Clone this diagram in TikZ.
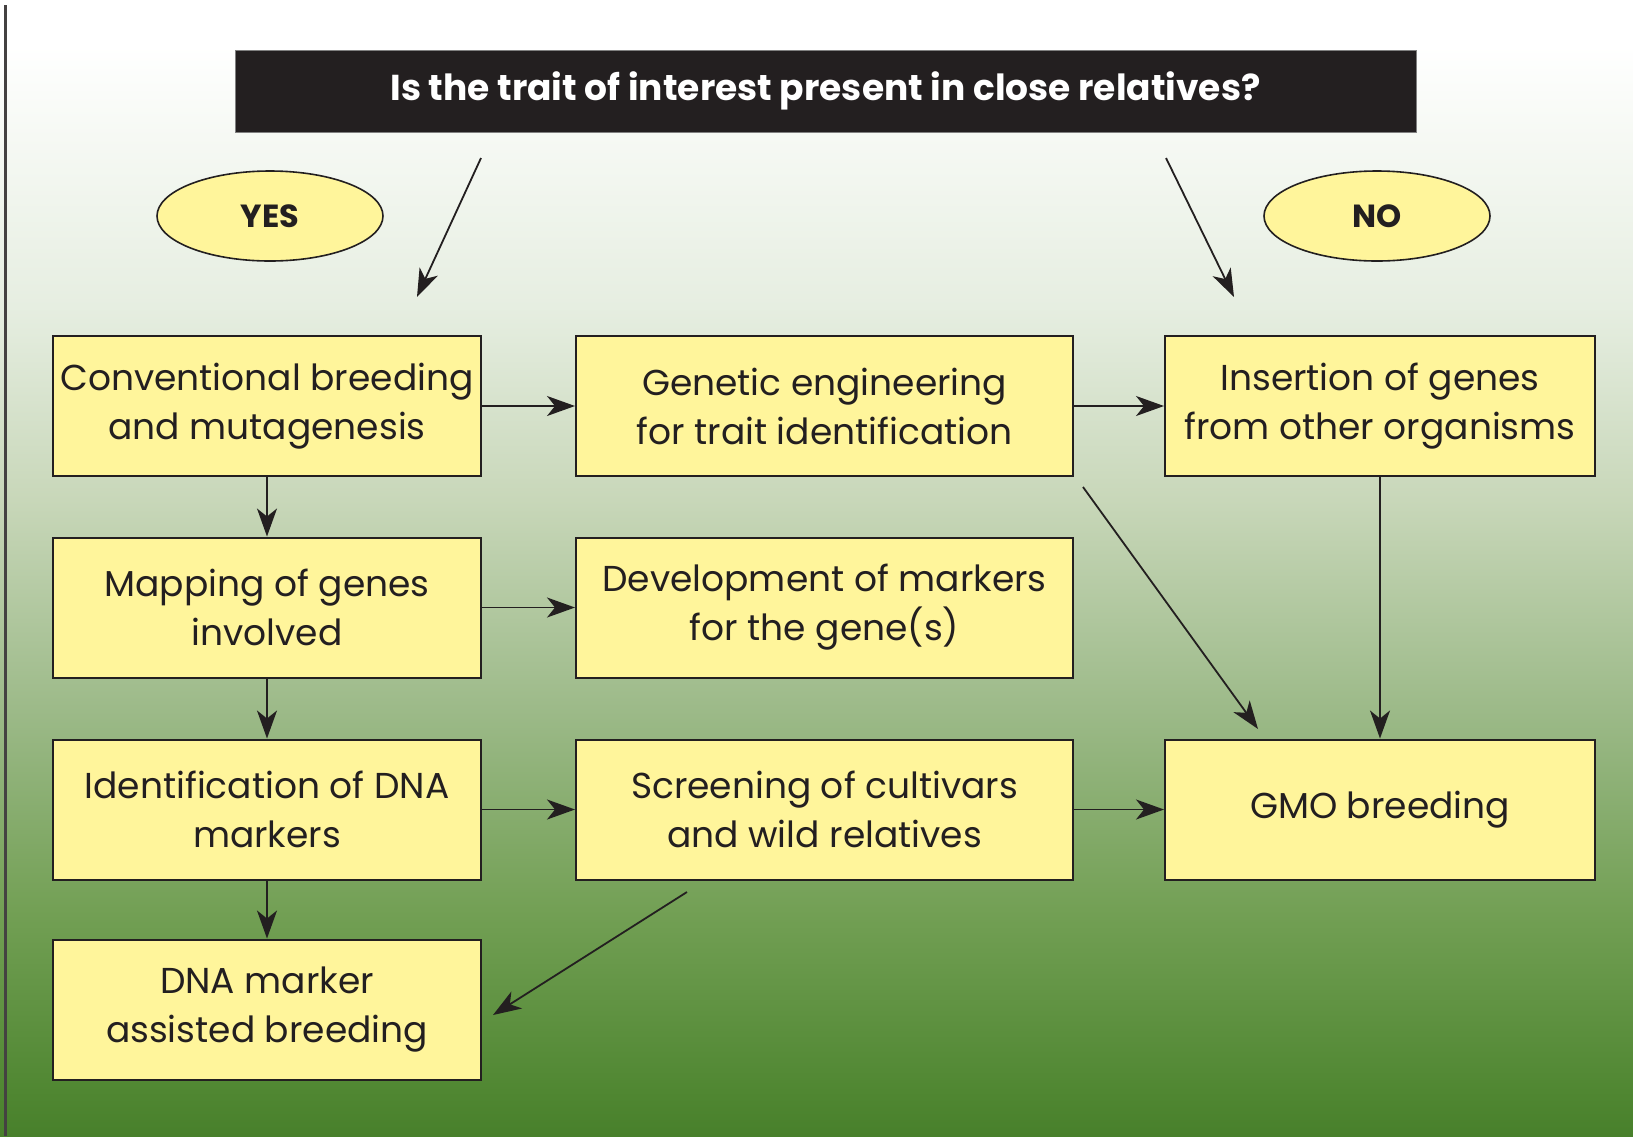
\documentclass[tikz,border=0pt]{standalone}
\usepackage{fontspec}
\setmainfont{Poppins}
\usetikzlibrary{arrows.meta,shapes.geometric}
\definecolor{linec}{RGB}{35,31,32}
\definecolor{boxfill}{RGB}{255,245,155}
\definecolor{barfill}{RGB}{35,31,32}
\definecolor{g0}{RGB}{72,128,43}
\definecolor{g1}{RGB}{80,135,50}
\definecolor{g2}{RGB}{115,160,85}
\definecolor{g3}{RGB}{155,185,135}
\definecolor{g4}{RGB}{200,215,185}
\definecolor{g5}{RGB}{230,238,225}
\definecolor{g6}{RGB}{246,249,244}
\pgfdeclareverticalshading{bgshade}{100bp}{color(0bp)=(g0); color(25bp)=(g0); color(27bp)=(g1); color(35bp)=(g2); color(43.5bp)=(g3); color(53bp)=(g4); color(61.5bp)=(g5); color(69bp)=(g6); color(73bp)=(white); color(100bp)=(white)}
\begin{document}
\begin{tikzpicture}[x=0.5pt,y=-0.5pt,
  box/.style={draw=linec, fill=boxfill, line width=1pt, align=center, inner sep=0pt,
    minimum height=70pt, font=\fontsize{18}{24.5}\selectfont, text=linec},
  lbox/.style={box, minimum width=214pt},
  mbox/.style={box, minimum width=248.5pt},
  rbox/.style={box, minimum width=215pt},
  oval/.style={ellipse, draw=linec, fill=boxfill, line width=0.8pt, minimum width=113pt,
    minimum height=45pt, inner sep=0pt, font=\fontsize{16}{18}\bfseries\selectfont, text=linec},
  arr/.style={draw=linec, line width=0.9pt, -{Stealth[length=14pt,width=10pt,inset=4pt]}}
]
\useasboundingbox (0,0) rectangle (1633,1136);
\shade[shading=bgshade] (0,0) rectangle (1633,1136);
\draw[line width=1.5pt, draw=linec!85] (5,5) -- (5,1136);

\node[draw=gray, fill=barfill, line width=0.5pt, minimum width=590.5pt, minimum height=41pt,
  inner sep=0pt, text=white, font=\fontsize{18}{20}\bfseries\selectfont] (q) at (825.5,91)
  {Is the trait of interest present in close relatives?};

\node[oval] (yes) at (270,216) {YES};
\node[oval] (no) at (1377,216) {NO};

\node[lbox] (l1) at (267,406) {Conventional breeding\\and mutagenesis};
\node[mbox] (m1) at (824.5,406) {Genetic engineering\\for trait identification};
\node[rbox] (r1) at (1380,406) {Insertion of genes\\from other organisms};
\node[lbox] (l2) at (267,607.5) {Mapping of genes\\involved};
\node[mbox] (m2) at (824.5,607.5) {Development of markers\\for the gene(s)};
\node[lbox] (l3) at (267,809.5) {Identification of DNA\\markers};
\node[mbox] (m3) at (824.5,809.5) {Screening of cultivars\\and wild relatives};
\node[rbox] (r3) at (1380,809.5) {GMO breeding};
\node[lbox] (l4) at (267,1009.5) {DNA marker\\assisted breeding};

\coordinate (ya) at (481,158);
\coordinate (yb) at (417,297);
\coordinate (na) at (1166,158);
\coordinate (nb) at (1234,297);
\coordinate (da) at (1083,487);
\coordinate (db) at (1258,729);
\coordinate (sa) at (687,892);
\coordinate (sb) at (493,1015);

\draw[arr] (ya) -- (yb);
\draw[arr] (na) -- (nb);
\draw[arr] (l1.east) -- (m1.west);
\draw[arr] (m1.east) -- (r1.west);
\draw[arr] (l2.east) -- (m2.west);
\draw[arr] (l3.east) -- (m3.west);
\draw[arr] (m3.east) -- (r3.west);
\draw[arr] (l1.south) -- (l2.north);
\draw[arr] (l2.south) -- (l3.north);
\draw[arr] (l3.south) -- (l4.north);
\draw[arr] (r1.south) -- (r3.north);
\draw[arr] (da) -- (db);
\draw[arr] (sa) -- (sb);
\end{tikzpicture}
\end{document}
